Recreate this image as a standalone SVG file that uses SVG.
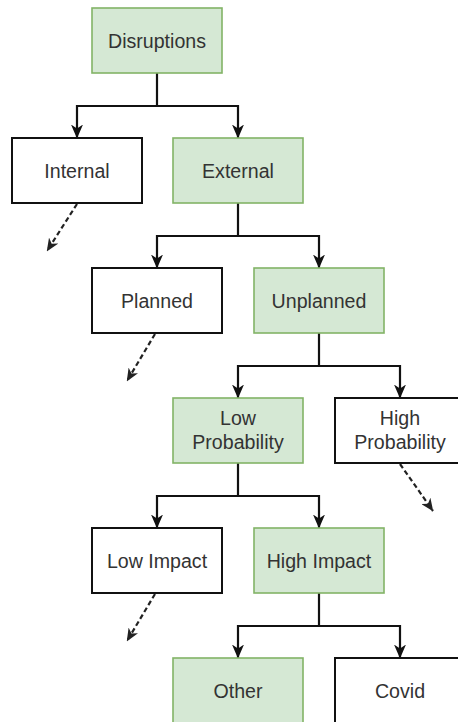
<svg xmlns="http://www.w3.org/2000/svg" width="458" height="722" viewBox="0 0 458 722">
  <style>
    .box { stroke-width: 1.6; }
    .green { fill: #d5e8d4; stroke: #82b366; }
    .plain { fill: #ffffff; stroke: #111111; stroke-width: 2; }
    .lbl { font-family: "Liberation Sans", Arial, sans-serif; font-size: 19.6px; fill: #333333; text-anchor: middle; }
    .link { fill: none; stroke: #111111; stroke-width: 2.2; }
    .dash { fill: none; stroke: #222222; stroke-width: 2.2; stroke-dasharray: 5 3; }
  </style>
  <defs>
    <marker id="arrow" markerUnits="userSpaceOnUse" viewBox="0 0 14 12" markerWidth="14" markerHeight="12" refX="13.5" refY="6" orient="auto">
      <path d="M0,0 L14,6 L0,12 L4,6 Z" fill="#111111"/>
    </marker>
    <marker id="arrowSmall" markerUnits="userSpaceOnUse" viewBox="0 0 14 12" markerWidth="13" markerHeight="11" refX="13.5" refY="6" orient="auto">
      <path d="M0,0 L14,6 L0,12 L4,6 Z" fill="#222222"/>
    </marker>
  </defs>

  <rect width="458" height="722" fill="#ffffff"/>

  <g id="connectors">
    <path class="link" d="M157,73 V106 H77 V138" marker-end="url(#arrow)"/>
    <path class="link" d="M157,106 H238 V138" marker-end="url(#arrow)"/>
    <path class="link" d="M238,203 V236 H157 V268" marker-end="url(#arrow)"/>
    <path class="link" d="M238,236 H319 V268" marker-end="url(#arrow)"/>
    <path class="link" d="M319,333 V366 H238 V398" marker-end="url(#arrow)"/>
    <path class="link" d="M319,366 H400 V398" marker-end="url(#arrow)"/>
    <path class="link" d="M238,463 V496 H157 V528" marker-end="url(#arrow)"/>
    <path class="link" d="M238,496 H319 V528" marker-end="url(#arrow)"/>
    <path class="link" d="M319,593 V626 H238 V658" marker-end="url(#arrow)"/>
    <path class="link" d="M319,626 H400 V658" marker-end="url(#arrow)"/>
    <path class="dash" d="M77,204 L47,251" marker-end="url(#arrowSmall)"/>
    <path class="dash" d="M155,334 L127,381" marker-end="url(#arrowSmall)"/>
    <path class="dash" d="M400,464 L433,511" marker-end="url(#arrowSmall)"/>
    <path class="dash" d="M155,594 L127,641" marker-end="url(#arrowSmall)"/>
  </g>

  <g id="disruptions">
    <rect class="box green" x="92" y="8" width="130" height="65"/>
    <text class="lbl" x="157" y="47.5">Disruptions</text>
  </g>
  <g id="internal">
    <rect class="box plain" x="12" y="138" width="130" height="65"/>
    <text class="lbl" x="77" y="177.5">Internal</text>
  </g>
  <g id="external">
    <rect class="box green" x="173" y="138" width="130" height="65"/>
    <text class="lbl" x="238" y="177.5">External</text>
  </g>
  <g id="planned">
    <rect class="box plain" x="92" y="268" width="130" height="65"/>
    <text class="lbl" x="157" y="307.5">Planned</text>
  </g>
  <g id="unplanned">
    <rect class="box green" x="254" y="268" width="130" height="65"/>
    <text class="lbl" x="319" y="307.5">Unplanned</text>
  </g>
  <g id="low-probability">
    <rect class="box green" x="173" y="398" width="130" height="65"/>
    <text class="lbl" x="238" y="425">Low</text>
    <text class="lbl" x="238" y="449">Probability</text>
  </g>
  <g id="high-probability">
    <rect class="box plain" x="335" y="398" width="130" height="65"/>
    <text class="lbl" x="400" y="425">High</text>
    <text class="lbl" x="400" y="449">Probability</text>
  </g>
  <g id="low-impact">
    <rect class="box plain" x="92" y="528" width="130" height="65"/>
    <text class="lbl" x="157" y="567.5">Low Impact</text>
  </g>
  <g id="high-impact">
    <rect class="box green" x="254" y="528" width="130" height="65"/>
    <text class="lbl" x="319" y="567.5">High Impact</text>
  </g>
  <g id="other">
    <rect class="box green" x="173" y="658" width="130" height="65"/>
    <text class="lbl" x="238" y="697.5">Other</text>
  </g>
  <g id="covid">
    <rect class="box plain" x="335" y="658" width="130" height="65"/>
    <text class="lbl" x="400" y="697.5">Covid</text>
  </g>
</svg>
